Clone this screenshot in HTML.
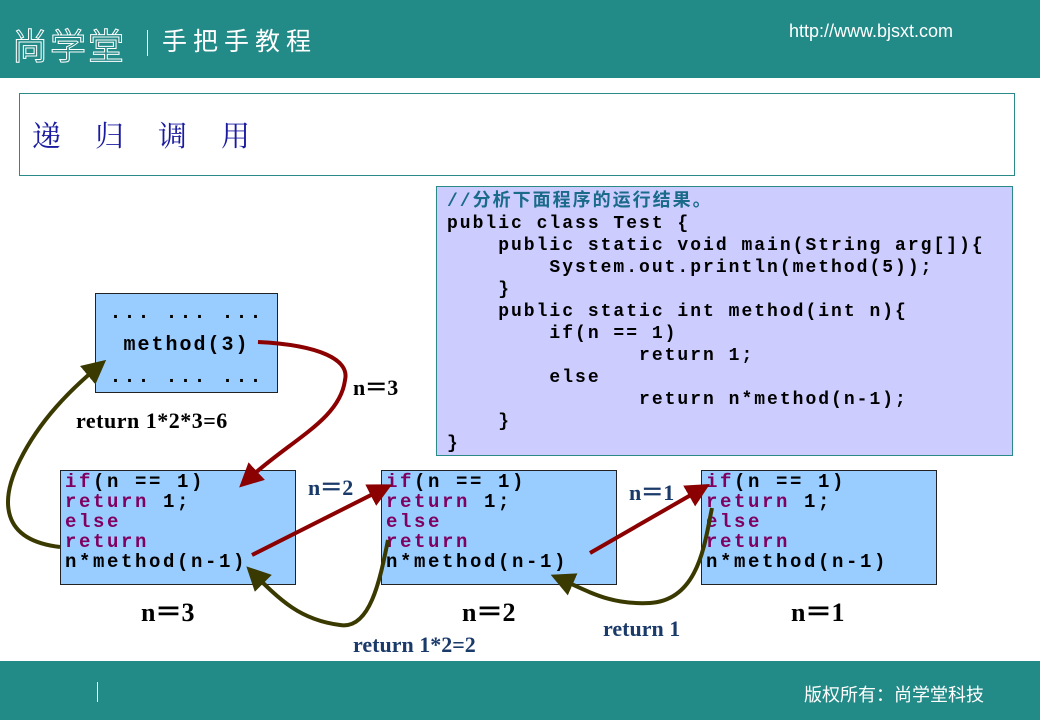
<!DOCTYPE html>
<html><head><meta charset="utf-8"><style>
*{margin:0;padding:0;box-sizing:border-box}
body{width:1040px;height:720px;position:relative;background:#fff;overflow:hidden;font-family:"Liberation Sans","Noto Sans CJK SC",sans-serif}
.a{position:absolute}
.hdr{left:0;top:0;width:1040px;height:78px;background:#228a87}
.ftr{left:0;top:661px;width:1040px;height:59px;background:#228a87}
.box{background:#99ccff;border:1px solid #222}
.code{font-family:"Liberation Mono",monospace;font-weight:bold;white-space:pre}
.c1{font-size:19px;letter-spacing:2.6px;line-height:20px;color:#000}
.k{color:#800060}
.lbl{font-family:"Liberation Serif",serif;font-weight:bold;font-size:22px;white-space:nowrap}
</style></head><body>
<div class="a hdr"></div>
<div class="a" style="left:12px;top:18px;color:#fff;font-size:36px;font-family:'WenQuanYi Zen Hei',sans-serif;letter-spacing:2px;-webkit-text-stroke:1px #fff;color:transparent">尚学堂</div>
<div class="a" style="left:147px;top:30px;width:1px;height:26px;background:#fff"></div>
<div class="a" style="left:162px;top:24px;color:#fff;font-size:25px;letter-spacing:6px;font-family:'Noto Sans CJK SC',sans-serif;line-height:32px">手把手教程</div>
<div class="a" style="left:789px;top:21px;color:#fff;font-size:18px">http://www.bjsxt.com</div>

<div class="a" style="left:19px;top:93px;width:996px;height:83px;border:1px solid #2a8a88"></div>
<div class="a" style="left:32px;top:115px;color:#1a1aa0;font-size:29px;font-family:'Noto Serif CJK SC',serif;letter-spacing:34px;line-height:40px">递归调用</div>

<div class="a code" style="left:436px;top:186px;width:577px;height:270px;background:#ccccff;border:1px solid #2a8a88;padding:4px 0 0 10px;font-size:18px;letter-spacing:2.0px;line-height:22px;color:#000"><span style="color:#1a6a8a;font-family:'Liberation Mono','Noto Sans CJK SC',monospace">//分析下面程序的运行结果。</span>
public class Test {
    public static void main(String arg[]){
        System.out.println(method(5));
    }
    public static int method(int n){
        if(n == 1)
               return 1;
        else
               return n*method(n-1);
    }
}</div>

<div class="a box code" style="left:95px;top:293px;width:183px;height:100px;font-size:20px;line-height:32px;text-align:center;padding-top:4px;letter-spacing:2px">... ... ...
method(3)
... ... ...</div>

<div class="a box code c1" style="left:60px;top:470px;width:236px;height:115px;padding:1px 0 0 4px"><span class="k">if</span>(n == 1)
<span class="k">return</span> 1;
<span class="k">else</span>
<span class="k">return</span>
n*method(n-1)</div>
<div class="a box code c1" style="left:381px;top:470px;width:236px;height:115px;padding:1px 0 0 4px"><span class="k">if</span>(n == 1)
<span class="k">return</span> 1;
<span class="k">else</span>
<span class="k">return</span>
n*method(n-1)</div>
<div class="a box code c1" style="left:701px;top:470px;width:236px;height:115px;padding:1px 0 0 4px"><span class="k">if</span>(n == 1)
<span class="k">return</span> 1;
<span class="k">else</span>
<span class="k">return</span>
n*method(n-1)</div>

<div class="a lbl" style="left:76px;top:408px;color:#000;letter-spacing:0.5px">return 1*2*3=6</div>
<div class="a lbl" style="left:353px;top:370px;color:#000">n＝3</div>
<div class="a lbl" style="left:308px;top:470px;color:#1a3a6a">n＝2</div>
<div class="a lbl" style="left:629px;top:475px;color:#1a3a6a">n＝1</div>
<div class="a lbl" style="left:141px;top:592px;color:#000;font-size:26px">n＝3</div>
<div class="a lbl" style="left:462px;top:592px;color:#000;font-size:26px">n＝2</div>
<div class="a lbl" style="left:791px;top:592px;color:#000;font-size:26px">n＝1</div>
<div class="a lbl" style="left:603px;top:616px;color:#1a3a6a">return 1</div>
<div class="a lbl" style="left:353px;top:632px;color:#1a3a6a">return 1*2=2</div>

<svg class="a" style="left:0;top:0" width="1040" height="720">
<defs>
<marker id="r" markerWidth="6" markerHeight="6" refX="4" refY="3" orient="auto"><path d="M0,0L6,3L0,6z" fill="#8b0000"/></marker>
<marker id="g" markerWidth="6" markerHeight="6" refX="4" refY="3" orient="auto"><path d="M0,0L6,3L0,6z" fill="#3a3a00"/></marker>
</defs>
<g fill="none" stroke-width="4">
<path d="M258,342 C320,345 350,360 345,380 C340,420 290,440 245,482" stroke="#8b0000" marker-end="url(#r)"/>
<path d="M252,555 L385,488" stroke="#8b0000" marker-end="url(#r)"/>
<path d="M590,553 L703,488" stroke="#8b0000" marker-end="url(#r)"/>
<path d="M60,547 C0,540 0,500 20,460 C40,420 70,390 100,365" stroke="#3a3a00" marker-end="url(#g)"/>
<path d="M388,540 C380,580 370,630 340,625 C300,620 280,600 252,572" stroke="#3a3a00" marker-end="url(#g)"/>
<path d="M712,508 C705,540 700,600 650,603 C610,605 590,592 558,578" stroke="#3a3a00" marker-end="url(#g)"/>
</g>
</svg>

<div class="a ftr"></div>
<div class="a" style="left:97px;top:682px;width:1px;height:20px;background:#fff"></div>
<div class="a" style="left:804px;top:682px;color:#fff;font-size:18px;font-family:'Noto Sans CJK SC',sans-serif;line-height:24px">版权所有：尚学堂科技</div>
</body></html>
